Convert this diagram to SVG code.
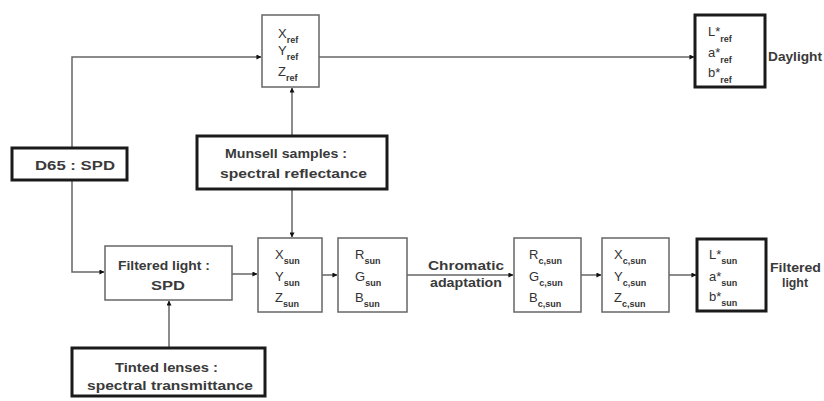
<svg xmlns="http://www.w3.org/2000/svg" width="824" height="401" viewBox="0 0 824 401">
  <defs>
    <marker id="ah" viewBox="0 0 6 6" refX="5.5" refY="3" markerWidth="5" markerHeight="5" orient="auto" markerUnits="userSpaceOnUse">
      <path d="M0,0 L6,3 L0,6 Z" fill="#111"/>
    </marker>
  </defs>
  <style>
    .thin { fill: #fff; stroke: #666; stroke-width: 1.5; }
    .thick { fill: #fff; stroke: #1a1a1a; stroke-width: 3; }
    .t { font-family: "Liberation Sans", Arial, sans-serif; font-size: 13px; font-weight: bold; fill: #3a3a3a; }
    .v { font-family: "Liberation Sans", Arial, sans-serif; font-size: 13px; fill: #333; }
    .s { font-size: 9px; font-weight: bold; }
    .ln { fill: none; stroke: #666; stroke-width: 1.5; marker-end: url(#ah); }
  </style>

  <g id="connectors">
    <polyline class="ln" points="72,148 72,57 261,57"/>
    <line class="ln" x1="319" y1="57" x2="694" y2="57"/>
    <polyline class="ln" points="72,180 72,272 104,272"/>
    <line class="ln" x1="292" y1="136" x2="292" y2="88"/>
    <line class="ln" x1="292" y1="189" x2="292" y2="237"/>
    <line class="ln" x1="169" y1="348" x2="169" y2="301"/>
    <line class="ln" x1="232" y1="274" x2="257" y2="274"/>
    <line class="ln" x1="322" y1="275" x2="337" y2="275"/>
    <line class="ln" x1="407" y1="275" x2="513" y2="275"/>
    <line class="ln" x1="581" y1="275" x2="601" y2="275"/>
    <line class="ln" x1="669" y1="275" x2="696" y2="275"/>
  </g>

  <g id="xyz-ref">
    <rect class="thin" x="262" y="15" width="57" height="72"/>
    <text class="v" x="278" y="38">X<tspan class="s" dy="5">ref</tspan></text>
    <text class="v" x="278" y="55">Y<tspan class="s" dy="5">ref</tspan></text>
    <text class="v" x="278" y="76">Z<tspan class="s" dy="5">ref</tspan></text>
  </g>

  <g id="lab-ref">
    <rect class="thick" x="695" y="15" width="70" height="72"/>
    <text class="v" x="708" y="36">L*<tspan class="s" dy="6">ref</tspan></text>
    <text class="v" x="708" y="57">a*<tspan class="s" dy="6">ref</tspan></text>
    <text class="v" x="708" y="77">b*<tspan class="s" dy="6">ref</tspan></text>
    <text class="t" x="768" y="61" textLength="54" lengthAdjust="spacingAndGlyphs">Daylight</text>
  </g>

  <g id="d65">
    <rect class="thick" x="12" y="148" width="115" height="32"/>
    <text class="t" x="35" y="170" textLength="80" lengthAdjust="spacingAndGlyphs">D65 : SPD</text>
  </g>

  <g id="munsell">
    <rect class="thick" x="197" y="136" width="190" height="53"/>
    <text class="t" x="225" y="158" textLength="122" lengthAdjust="spacingAndGlyphs">Munsell samples :</text>
    <text class="t" x="220" y="178" textLength="147" lengthAdjust="spacingAndGlyphs">spectral reflectance</text>
  </g>

  <g id="filtered-light">
    <rect class="thin" x="105" y="246" width="127" height="54"/>
    <text class="t" x="118" y="270" textLength="92" lengthAdjust="spacingAndGlyphs">Filtered light :</text>
    <text class="t" x="151" y="290" textLength="34" lengthAdjust="spacingAndGlyphs">SPD</text>
  </g>

  <g id="xyz-sun">
    <rect class="thin" x="258" y="238" width="64" height="74"/>
    <text class="v" x="275" y="259">X<tspan class="s" dy="5">sun</tspan></text>
    <text class="v" x="275" y="281">Y<tspan class="s" dy="5">sun</tspan></text>
    <text class="v" x="275" y="302">Z<tspan class="s" dy="5">sun</tspan></text>
  </g>

  <g id="rgb-sun">
    <rect class="thin" x="338" y="238" width="69" height="74"/>
    <text class="v" x="355" y="259">R<tspan class="s" dy="5">sun</tspan></text>
    <text class="v" x="355" y="281">G<tspan class="s" dy="5">sun</tspan></text>
    <text class="v" x="355" y="302">B<tspan class="s" dy="5">sun</tspan></text>
  </g>

  <g id="chromatic-adaptation">
    <text class="t" x="428" y="270" textLength="76" lengthAdjust="spacingAndGlyphs">Chromatic</text>
    <text class="t" x="430" y="287" textLength="72" lengthAdjust="spacingAndGlyphs">adaptation</text>
  </g>

  <g id="rgb-c">
    <rect class="thin" x="514" y="238" width="67" height="74"/>
    <text class="v" x="529" y="259">R<tspan class="s" dy="5">c,sun</tspan></text>
    <text class="v" x="529" y="281">G<tspan class="s" dy="5">c,sun</tspan></text>
    <text class="v" x="529" y="302">B<tspan class="s" dy="5">c,sun</tspan></text>
  </g>

  <g id="xyz-c">
    <rect class="thin" x="602" y="238" width="67" height="74"/>
    <text class="v" x="614" y="259">X<tspan class="s" dy="5">c,sun</tspan></text>
    <text class="v" x="614" y="281">Y<tspan class="s" dy="5">c,sun</tspan></text>
    <text class="v" x="614" y="302">Z<tspan class="s" dy="5">c,sun</tspan></text>
  </g>

  <g id="lab-sun">
    <rect class="thick" x="697" y="239" width="69" height="72"/>
    <text class="v" x="709" y="259">L*<tspan class="s" dy="5">sun</tspan></text>
    <text class="v" x="709" y="281">a*<tspan class="s" dy="5">sun</tspan></text>
    <text class="v" x="709" y="301">b*<tspan class="s" dy="5">sun</tspan></text>
    <text class="t" x="770" y="272" textLength="51" lengthAdjust="spacingAndGlyphs">Filtered</text>
    <text class="t" x="782" y="287" textLength="26" lengthAdjust="spacingAndGlyphs">light</text>
  </g>

  <g id="tinted-lenses">
    <rect class="thick" x="72" y="348" width="193" height="48"/>
    <text class="t" x="115" y="372" textLength="103" lengthAdjust="spacingAndGlyphs">Tinted lenses :</text>
    <text class="t" x="87" y="390" textLength="166" lengthAdjust="spacingAndGlyphs">spectral transmittance</text>
  </g>
</svg>
